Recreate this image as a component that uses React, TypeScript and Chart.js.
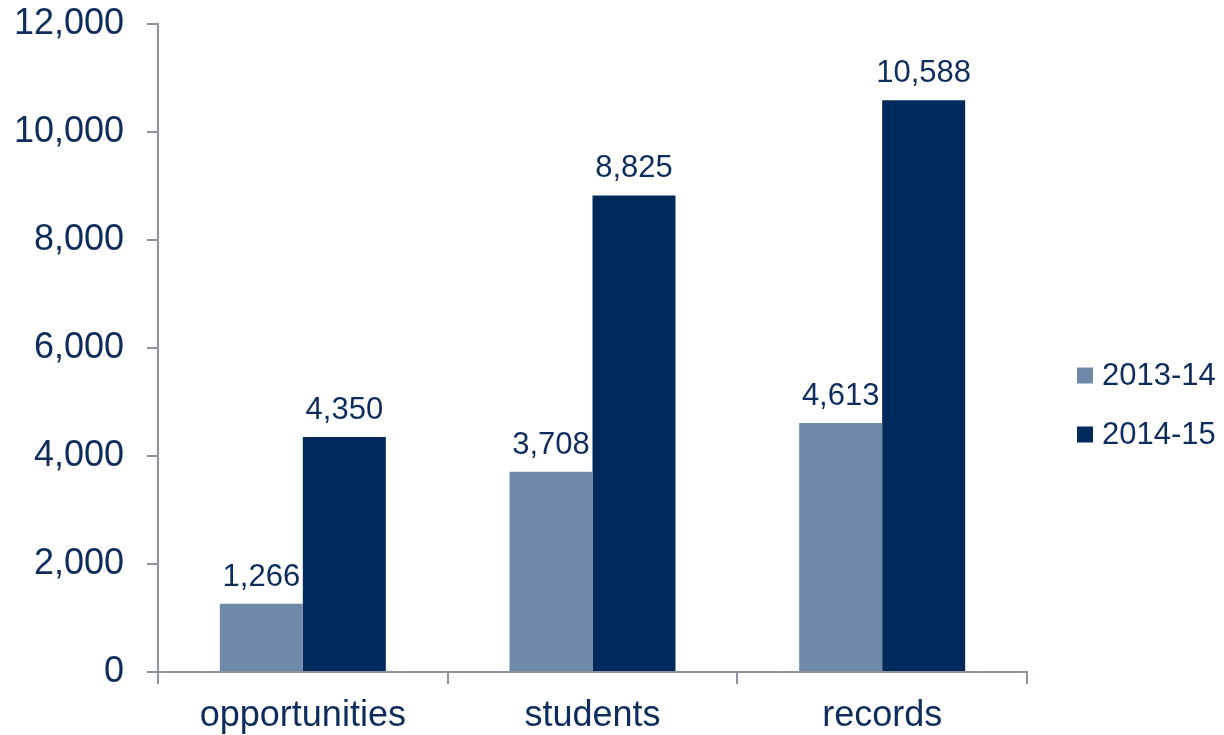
import React, { useEffect, useRef } from "react";
import { Chart, registerables } from "chart.js";

Chart.register(...registerables);

const categories = ["opportunities", "students", "records"];
const series2013 = [1266, 3708, 4613];
const series2014 = [4350, 8825, 10588];
const seriesNames = ["2013-14", "2014-15"];
const yTicks = [0, 2000, 4000, 6000, 8000, 10000, 12000];

const TEXT = "#0F2D5C";
const LIGHT = "#6F89A8";
const DARK = "#002A5C";
const AXIS = "#8E929D";
const FONT = "'Liberation Sans', Arial, sans-serif";

const fmt = (v: number) => v.toLocaleString("en-US");

const labelsPlugin = {
  id: "barLabels",
  afterDatasetsDraw(chart: any) {
    const ctx = chart.ctx;
    ctx.save();
    ctx.fillStyle = TEXT;
    ctx.font = `31px ${FONT}`;
    ctx.textAlign = "center";
    ctx.textBaseline = "alphabetic";
    chart.data.datasets.forEach((ds: any, di: number) => {
      const meta = chart.getDatasetMeta(di);
      meta.data.forEach((bar: any, i: number) => {
        ctx.fillText(fmt(ds.data[i]), bar.x, bar.y - 18);
      });
    });
    ctx.restore();
  },
};

const legendPlugin = {
  id: "customLegend",
  afterDraw(chart: any) {
    const ctx = chart.ctx;
    const area = chart.chartArea;
    ctx.save();
    ctx.font = `31px ${FONT}`;
    ctx.textAlign = "left";
    ctx.textBaseline = "middle";
    const x0 = area.right + 50;
    const yc = (area.top + area.bottom) / 2 + 57;
    const gap = 59;
    chart.data.datasets.forEach((ds: any, i: number) => {
      const cy = yc - gap / 2 + i * gap;
      ctx.fillStyle = ds.backgroundColor;
      ctx.fillRect(x0, cy - 8, 16, 16);
      ctx.fillStyle = TEXT;
      ctx.fillText(ds.label, x0 + 25, cy + 1);
    });
    ctx.restore();
  },
};

export default function App() {
  const ref = useRef<HTMLCanvasElement | null>(null);

  useEffect(() => {
    document.body.style.margin = "0";
    const canvas = ref.current;
    if (!canvas) return;
    const chart = new Chart(canvas, {
      type: "bar",
      data: {
        labels: categories,
        datasets: [
          {
            label: seriesNames[0],
            data: series2013,
            backgroundColor: LIGHT,
            barPercentage: 1,
            categoryPercentage: 0.573,
          },
          {
            label: seriesNames[1],
            data: series2014,
            backgroundColor: DARK,
            barPercentage: 1,
            categoryPercentage: 0.573,
          },
        ],
      },
      options: {
        animation: false,
        responsive: false,
        maintainAspectRatio: false,
        layout: { padding: { top: 24, right: 197, bottom: 0, left: 0 } },
        plugins: {
          legend: { display: false },
          tooltip: { enabled: false },
        },
        scales: {
          x: {
            offset: true,
            grid: {
              display: true,
              drawOnChartArea: false,
              offset: true,
              drawTicks: true,
              tickLength: 12,
              color: AXIS,
              lineWidth: 2,
            },
            border: { display: true, color: AXIS, width: 2 },
            ticks: {
              color: TEXT,
              font: { family: FONT, size: 36 },
              padding: 10,
              maxRotation: 0,
            },
            afterFit: (scale: any) => {
              scale.height = 63;
              scale.paddingLeft = 0;
              scale.paddingRight = 0;
            },
          },
          y: {
            min: 0,
            max: 12000,
            afterBuildTicks: (scale: any) => {
              scale.ticks = yTicks.map((v) => ({ value: v }));
            },
            grid: {
              display: true,
              drawOnChartArea: false,
              drawTicks: true,
              tickLength: 11,
              color: AXIS,
              lineWidth: 2,
            },
            border: { display: true, color: AXIS, width: 2 },
            ticks: {
              color: TEXT,
              font: { family: FONT, size: 36 },
              padding: 23,
              callback: (v: any) => fmt(Number(v)),
            },
            afterFit: (scale: any) => {
              scale.width = 158;
              scale.paddingTop = 0;
              scale.paddingBottom = 0;
            },
          },
        },
      },
      plugins: [labelsPlugin, legendPlugin],
    });
    return () => chart.destroy();
  }, []);

  return (
    <div style={{ width: 1224, height: 735 }}>
      <canvas ref={ref} width={1224} height={735} style={{ display: "block" }} />
    </div>
  );
}
